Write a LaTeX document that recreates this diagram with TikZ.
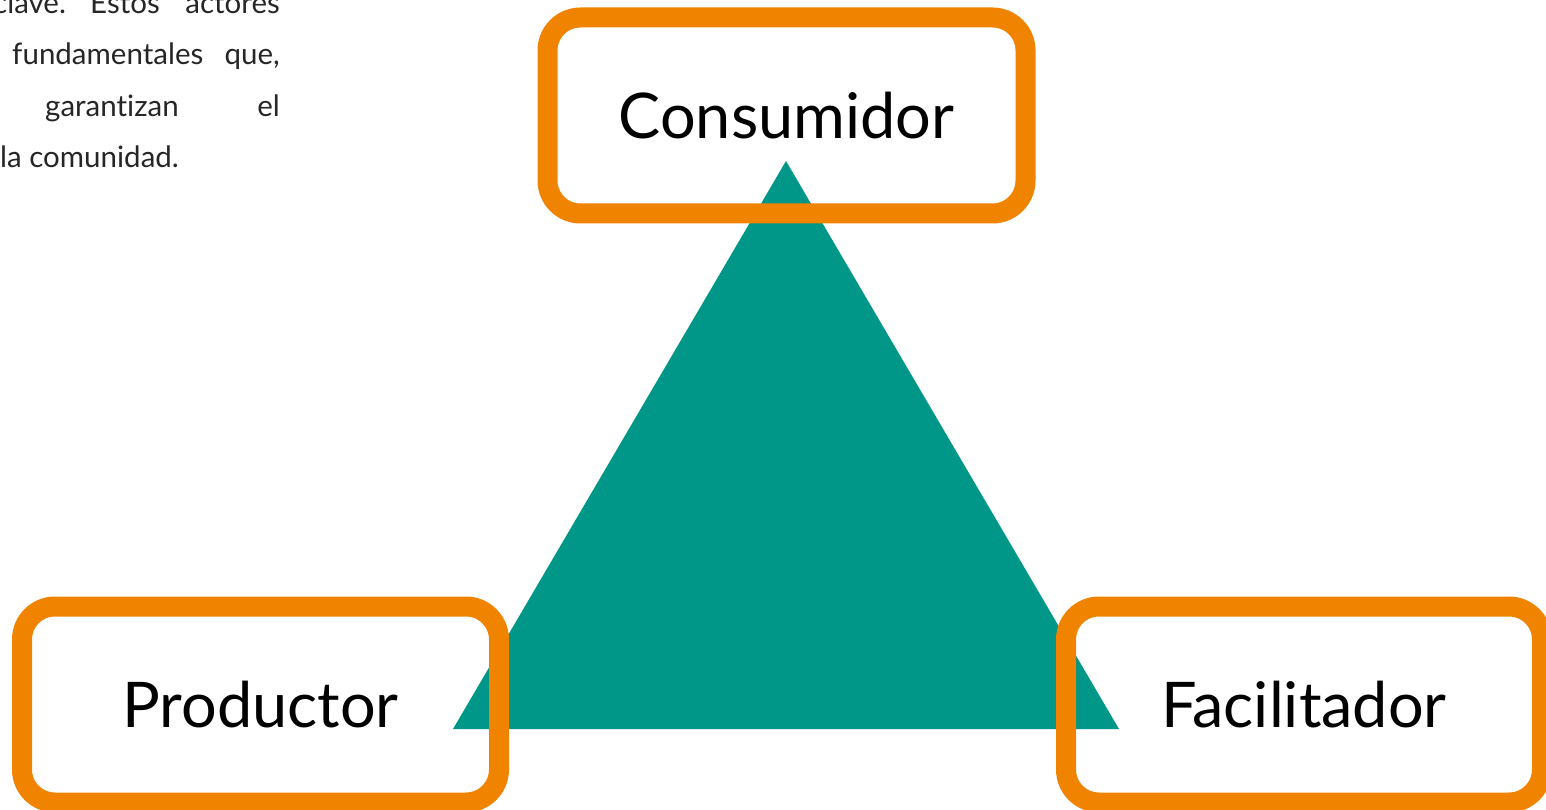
\documentclass[tikz,border=0pt]{standalone}
\usepackage{fontspec}
\setmainfont{Lato}[Ligatures=CommonOff]
\usetikzlibrary{positioning}
\definecolor{naranja}{RGB}{240,131,0}
\definecolor{verde}{RGB}{0,150,136}
\tikzset{
    actor/.style={draw=naranja, line width=20pt, rounded corners=33pt,
        minimum width=478pt, minimum height=196pt, inner sep=0pt,
        font=\fontsize{63}{75}\selectfont},
    palabra/.style={inner sep=0pt, text=black!85, font=\fontsize{29.5}{35}\selectfont}
}

\begin{document}
\begin{tikzpicture}[x=1pt, y=-1pt]
% 1. 固定画布大小
\useasboundingbox (0,0) rectangle (1546,810);

% 2. 标记三角形的顶点
\coordinate (apex) at (786, 161);
\coordinate (baseL) at (453, 729);
\coordinate (baseR) at (1119, 729);
\fill[verde] (apex) -- (baseL) -- (baseR) -- cycle;

% 3. 三个角色的框
\node[actor] (consumidor) at (786.5, 115.5) {Consumidor};
\node[actor, minimum width=477pt] (productor) at (260.5, 704.5) {Productor};
\node[actor, minimum width=476pt] (facilitador) at (1304, 704.5) {Facilitador};

% 4. 左上角被截断的段落
\foreach \x/\y/\anc/\w [count=\i] in
    {-7/14/base west/clave., 90/14/base west/Estos, 280/14/base east/actores,
     12/65/base west/fundamentales, 280/65/base east/{que,},
     45/117/base west/garantizan, 280/117/base east/el,
     0/168/base west/la comunidad.}
    {\node[palabra, anchor=\anc] (w\i) at (\x, \y) {\w};
    }
\end{tikzpicture}
\end{document}
